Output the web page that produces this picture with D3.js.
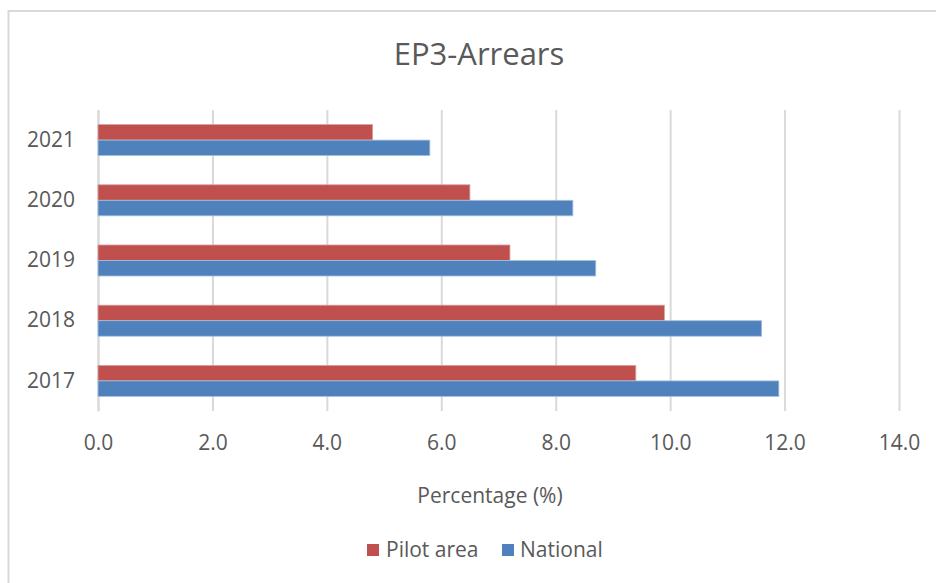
<!DOCTYPE html>
<html>
<head>
<meta charset="utf-8">
<script src="https://cdn.jsdelivr.net/npm/d3@7"></script>
<style>
  html, body { margin: 0; padding: 0; background: #fff; }
  svg { display: block; font-family: "Open Sans", "Noto Sans", sans-serif; }
</style>
</head>
<body>
<svg id="chart" width="936" height="583"></svg>
<script>
// Arrears rate by year, pilot area vs. national
const years = ["2017", "2018", "2019", "2020", "2021"];
const seriesNames = ["Pilot area", "National"];
const pilotArea = [9.4, 9.9, 7.2, 6.5, 4.8];
const national = [11.9, 11.6, 8.7, 8.3, 5.8];
const xTicks = [0, 2, 4, 6, 8, 10, 12, 14];
const colors = ["#C0504D", "#4F81BD"];
const strokes = ["#d9a09e", "#a9c0de"];

const rows = years.map((y, i) => ({ year: y, values: [pilotArea[i], national[i]] }));

const svg = d3.select("#chart");
const textColor = "#595959";
const gridColor = "#d9d9d9";

// Outer chart frame
svg.append("rect")
  .attr("x", 8.5).attr("y", 11)
  .attr("width", 960).attr("height", 620)
  .attr("fill", "none").attr("stroke", gridColor).attr("stroke-width", 2);

const plot = { left: 98, right: 899, top: 110, bottom: 411 };

const x = d3.scaleLinear().domain([0, 14]).range([plot.left, plot.right]);
// Latest year on top
const y = d3.scaleBand().domain(years.slice().reverse()).range([plot.top, plot.bottom]).padding(0);
const ySub = d3.scaleBand().domain(seriesNames).range([0, y.step()]).paddingInner(0).paddingOuter(0.94);

// Vertical gridlines with value labels
const xAxis = d3.axisBottom(x)
  .tickValues(xTicks)
  .tickFormat(d3.format(".1f"))
  .tickSize(-(plot.bottom - plot.top))
  .tickPadding(24);

const gx = svg.append("g")
  .attr("transform", `translate(0,${plot.bottom})`)
  .call(xAxis);
gx.select(".domain").remove();
gx.selectAll(".tick line").attr("stroke", gridColor).attr("stroke-width", 2);
gx.selectAll(".tick text")
  .attr("fill", textColor)
  .attr("font-size", 21)
  .attr("font-family", "Open Sans")
  .attr("dy", "0")
  .attr("y", 39);

// Category axis
const yAxis = d3.axisLeft(y).tickSize(0).tickPadding(23);
const gy = svg.append("g")
  .attr("transform", `translate(${plot.left},0)`)
  .call(yAxis);
gy.select(".domain").attr("stroke", gridColor).attr("stroke-width", 2);
gy.selectAll(".tick text")
  .attr("fill", textColor)
  .attr("font-size", 21)
  .attr("font-family", "Open Sans");

// Bars
const groups = svg.append("g").selectAll("g")
  .data(rows)
  .join("g")
  .attr("transform", d => `translate(0,${y(d.year)})`);

groups.selectAll("rect")
  .data(d => d.values.map((v, i) => ({ name: seriesNames[i], value: v, i })))
  .join("rect")
  .attr("x", x(0))
  .attr("y", d => ySub(d.name))
  .attr("width", d => x(d.value) - x(0))
  .attr("height", ySub.bandwidth())
  .attr("fill", d => colors[d.i])
  .attr("stroke", d => strokes[d.i])
  .attr("stroke-width", 0.8);

// Title
svg.append("text")
  .attr("x", 479).attr("y", 65)
  .attr("text-anchor", "middle")
  .attr("fill", textColor)
  .attr("font-size", 31)
  .text("EP3-Arrears");

// Axis title
svg.append("text")
  .attr("x", 490).attr("y", 502.5)
  .attr("text-anchor", "middle")
  .attr("fill", textColor)
  .attr("font-size", 21)
  .text("Percentage (%)");

// Legend
const legendItems = [
  { name: seriesNames[0], color: colors[0], sx: 367, tx: 386 },
  { name: seriesNames[1], color: colors[1], sx: 502, tx: 520 }
];
const legend = svg.append("g");
legendItems.forEach(item => {
  legend.append("rect")
    .attr("x", item.sx).attr("y", 544)
    .attr("width", 12).attr("height", 12)
    .attr("fill", item.color);
  legend.append("text")
    .attr("x", item.tx).attr("y", 556.5)
    .attr("fill", textColor)
    .attr("font-size", 21)
    .text(item.name);
});
</script>
</body>
</html>
